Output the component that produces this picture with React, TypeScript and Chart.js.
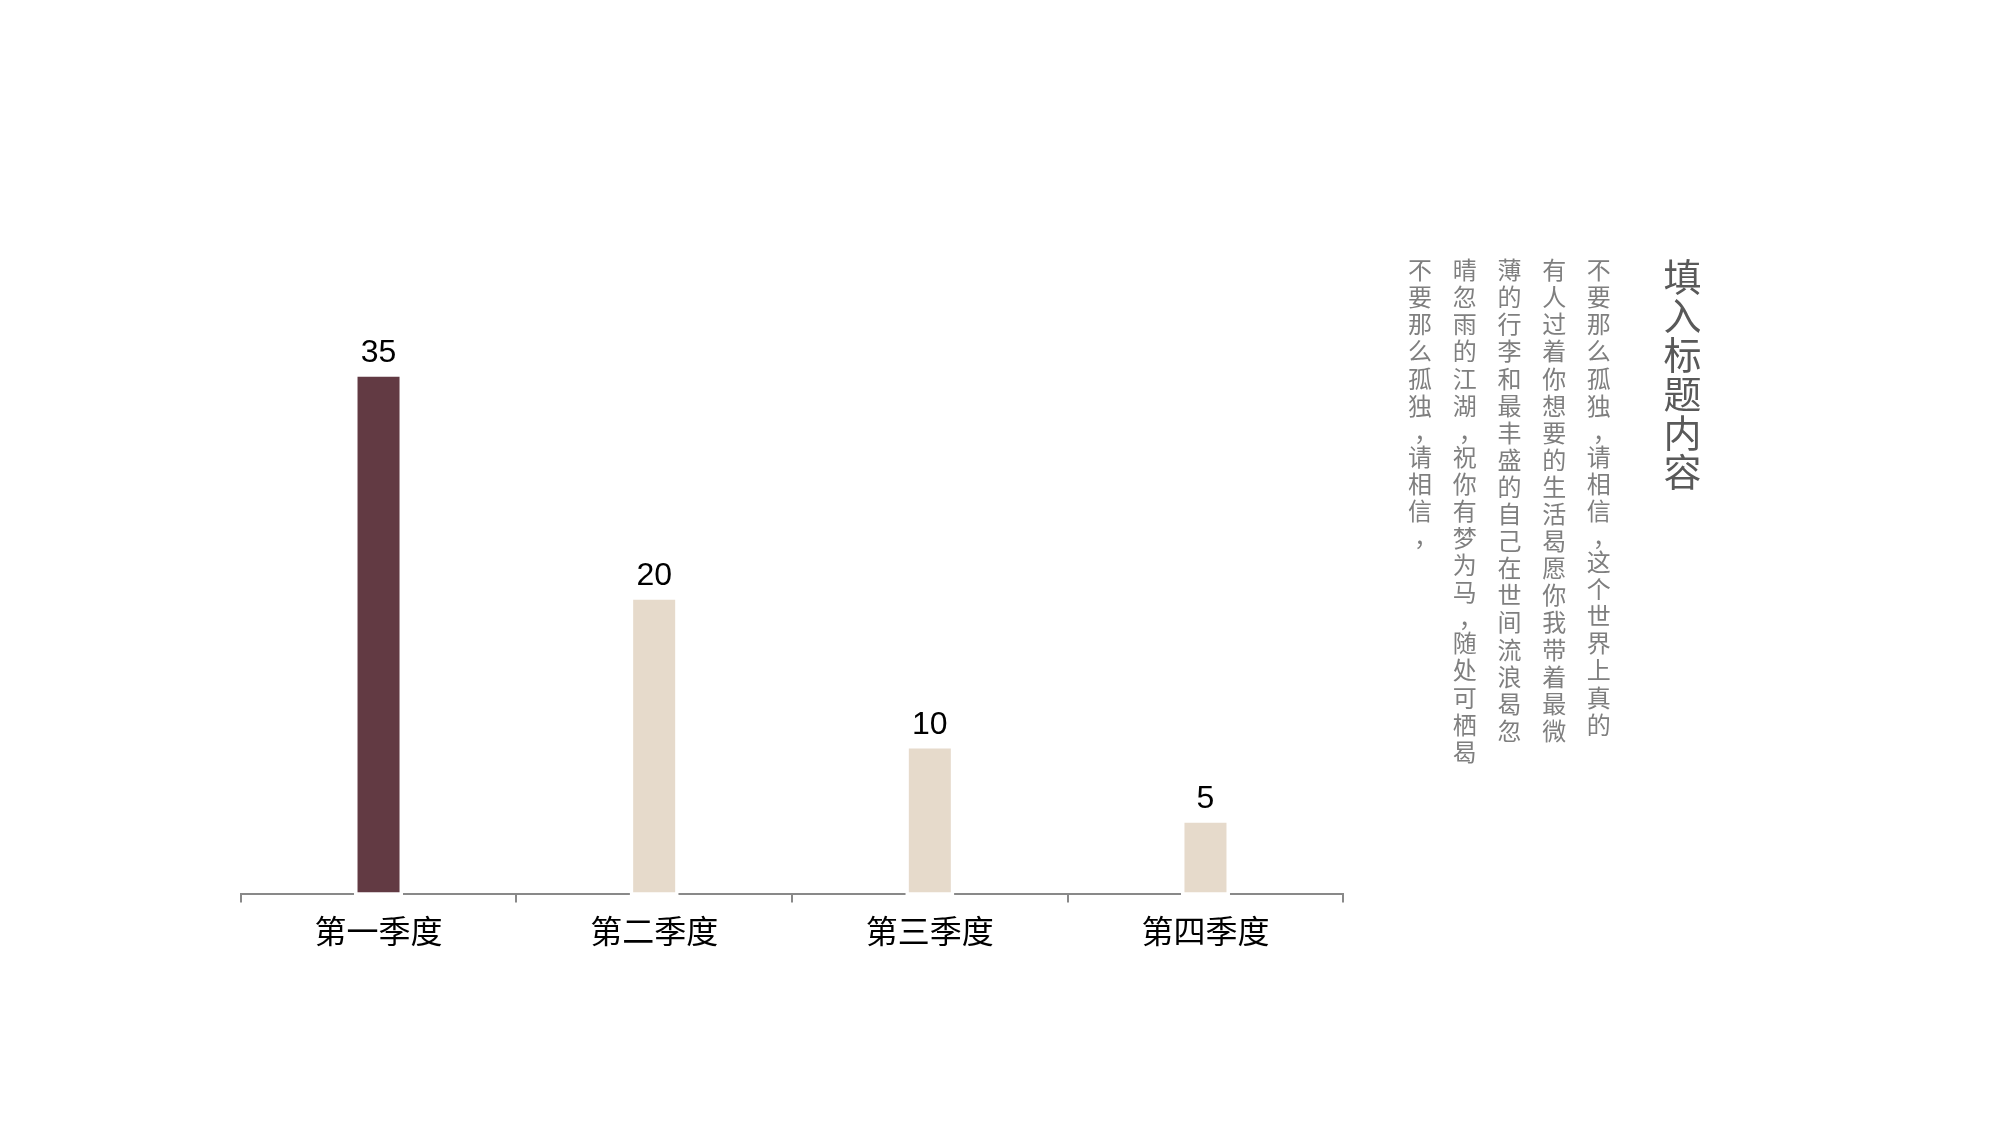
import React, { useEffect, useRef } from "react";
import { Chart, registerables } from "chart.js";

Chart.register(...registerables);

const categories = ["第一季度", "第二季度", "第三季度", "第四季度"];
const values = [35, 20, 10, 5];
const barColors = ["#623A43", "#E6DACB", "#E6DACB", "#E6DACB"];
const yMin = 0;
const yMax = 40;

const title = "填入标题内容";
const bodyColumns = [
  "不要那么孤独，请相信，这个世界上真的",
  "有人过着你想要的生活曷愿你我带着最微",
  "薄的行李和最丰盛的自己在世间流浪曷忽",
  "晴忽雨的江湖，祝你有梦为马，随处可栖曷",
  "不要那么孤独，请相信，",
];

const valueLabelPlugin = {
  id: "valueLabels",
  afterDatasetsDraw(chart: any) {
    const ctx = chart.ctx;
    const meta = chart.getDatasetMeta(0);
    ctx.save();
    ctx.font = "32px 'Liberation Sans', Arial, sans-serif";
    ctx.fillStyle = "#000000";
    ctx.textAlign = "center";
    ctx.textBaseline = "alphabetic";
    meta.data.forEach((bar: any, i: number) => {
      const v = chart.data.datasets[0].data[i];
      ctx.fillText(String(v), bar.x, bar.y - 11);
    });
    ctx.restore();
  },
};

function renderColumn(line: string) {
  const parts = line.split("，");
  const out: React.ReactNode[] = [];
  parts.forEach((p, i) => {
    out.push(<React.Fragment key={"t" + i}>{p}</React.Fragment>);
    if (i < parts.length - 1) {
      out.push(
        <span
          key={"c" + i}
          style={{
            display: "inline-block",
            transform: "translate(6px, -3px)",
          }}
        >
          <span style={{ textCombineUpright: "all" } as any}>，</span>
        </span>
      );
    }
  });
  return out;
}

export default function App() {
  const canvasRef = useRef<HTMLCanvasElement | null>(null);

  useEffect(() => {
    if (!canvasRef.current) return;
    const chart = new Chart(canvasRef.current, {
      type: "bar",
      data: {
        labels: categories,
        datasets: [
          {
            data: values,
            backgroundColor: barColors,
            borderColor: "#FFFFFF",
            borderWidth: 3.5,
            borderSkipped: false,
            base: -0.15,
            barPercentage: 0.1778,
            categoryPercentage: 1,
            clip: false,
          } as any,
        ],
      },
      options: {
        responsive: false,
        animation: false,
        devicePixelRatio: 1,
        layout: { padding: { left: 240.7, right: 656.7, top: 299, bottom: 166 } },
        plugins: {
          legend: { display: false },
          tooltip: { enabled: false },
        },
        scales: {
          x: {
            grid: {
              display: true,
              drawOnChartArea: false,
              drawTicks: true,
              tickLength: 9,
              color: "#898989",
              lineWidth: 2,
              offset: true,
            },
            border: { display: true, color: "#898989", width: 2 },
            ticks: {
              color: "#000000",
              font: { family: "'Noto Sans CJK SC', sans-serif", size: 32 },
              padding: 9,
              maxRotation: 0,
              autoSkip: false,
            },
          },
          y: { display: false, min: yMin, max: yMax },
        },
      },
      plugins: [valueLabelPlugin],
    });
    return () => chart.destroy();
  }, []);

  return (
    <div
      style={{
        position: "absolute",
        left: 0,
        top: 0,
        width: 2000,
        height: 1125,
        overflow: "hidden",
        background: "#FFFFFF",
      }}
    >
      <canvas
        ref={canvasRef}
        width={2000}
        height={1125}
        style={{ position: "absolute", left: 0, top: 0, width: 2000, height: 1125 }}
      />
      <div
        style={{
          position: "absolute",
          left: 1682 - 19,
          top: 258,
          width: 38,
          writingMode: "vertical-rl",
          fontFamily: "'Noto Sans CJK SC', sans-serif",
          fontSize: 38,
          letterSpacing: "1px",
          lineHeight: "38px",
          color: "#595959",
          whiteSpace: "nowrap",
        }}
      >
        {title}
      </div>
      <div
        style={{
          position: "absolute",
          left: 1620.35 - 44.7 * 5,
          top: 258,
          width: 44.7 * 5,
          writingMode: "vertical-rl",
          fontFamily: "'Noto Sans CJK SC', sans-serif",
          fontSize: 24,
          letterSpacing: "3.1px",
          lineHeight: "44.7px",
          color: "#7F7F7F",
          whiteSpace: "nowrap",
        }}
      >
        {bodyColumns.map((line, i) => (
          <div key={i}>{renderColumn(line)}</div>
        ))}
      </div>
    </div>
  );
}
